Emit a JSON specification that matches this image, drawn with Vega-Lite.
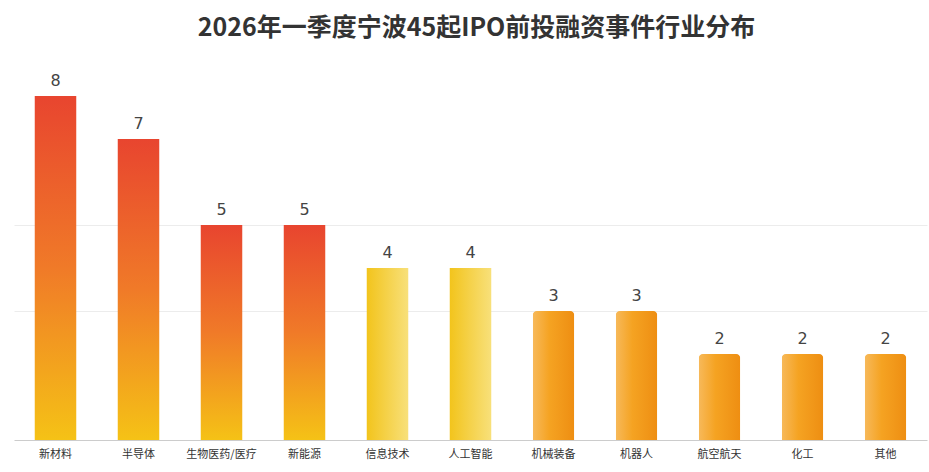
{
  "$schema": "https://vega.github.io/schema/vega-lite/v6.json",
  "autosize": "none",
  "width": 913,
  "height": 387,
  "padding": {"left": 14, "top": 53, "right": 2, "bottom": 32},
  "background": "#ffffff",
  "title": {
    "text": "2026年一季度宁波45起IPO前投融资事件行业分布",
    "font": "Noto Sans CJK SC",
    "fontSize": 25,
    "fontWeight": "bold",
    "color": "#333333",
    "anchor": "middle",
    "dx": 6,
    "offset": 12
  },
  "config": {"view": {"stroke": null}},
  "data": {
    "values": [
      {"industry": "新材料", "count": 8, "group": "A"},
      {"industry": "半导体", "count": 7, "group": "A"},
      {"industry": "生物医药/医疗", "count": 5, "group": "A"},
      {"industry": "新能源", "count": 5, "group": "A"},
      {"industry": "信息技术", "count": 4, "group": "B"},
      {"industry": "人工智能", "count": 4, "group": "B"},
      {"industry": "机械装备", "count": 3, "group": "C"},
      {"industry": "机器人", "count": 3, "group": "C"},
      {"industry": "航空航天", "count": 2, "group": "C"},
      {"industry": "化工", "count": 2, "group": "C"},
      {"industry": "其他", "count": 2, "group": "C"}
    ]
  },
  "encoding": {
    "x": {
      "field": "industry",
      "type": "nominal",
      "sort": null,
      "scale": {"paddingInner": 0.5, "paddingOuter": 0.25},
      "axis": {
        "title": null,
        "labelAngle": 0,
        "labelFont": "Noto Sans CJK SC",
        "labelFontSize": 11,
        "labelColor": "#333333",
        "labelPadding": 8,
        "ticks": false,
        "domainColor": "#cccccc",
        "grid": false
      }
    },
    "y": {
      "field": "count",
      "type": "quantitative",
      "scale": {"domain": [0, 9]},
      "axis": {
        "title": null,
        "labels": false,
        "ticks": false,
        "domain": false,
        "values": [3, 5],
        "grid": true,
        "gridColor": "#ececec"
      }
    }
  },
  "layer": [
    {
      "transform": [{"filter": "datum.group === 'A'"}],
      "mark": {
        "type": "bar",
        "color": {
          "gradient": "linear",
          "x1": 0, "y1": 0, "x2": 0, "y2": 1,
          "stops": [
            {"offset": 0, "color": "#e8452f"},
            {"offset": 0.5, "color": "#f07a28"},
            {"offset": 1, "color": "#f5c216"}
          ]
        }
      }
    },
    {
      "transform": [{"filter": "datum.group === 'B'"}],
      "mark": {
        "type": "bar",
        "color": {
          "gradient": "linear",
          "x1": 0, "y1": 0, "x2": 1, "y2": 0,
          "stops": [
            {"offset": 0, "color": "#f2c41c"},
            {"offset": 1, "color": "#f8e07a"}
          ]
        }
      }
    },
    {
      "transform": [{"filter": "datum.group === 'C'"}],
      "mark": {
        "type": "bar",
        "cornerRadiusTopLeft": 4,
        "cornerRadiusTopRight": 4,
        "color": {
          "gradient": "linear",
          "x1": 0, "y1": 0, "x2": 1, "y2": 0,
          "stops": [
            {"offset": 0, "color": "#f7b95a"},
            {"offset": 0.4, "color": "#f5a322"},
            {"offset": 1, "color": "#ee8e12"}
          ]
        }
      }
    },
    {
      "mark": {
        "type": "text",
        "baseline": "bottom",
        "dy": -7,
        "font": "DejaVu Sans",
        "fontSize": 16,
        "color": "#444444"
      },
      "encoding": {"text": {"field": "count", "type": "quantitative"}}
    }
  ]
}
